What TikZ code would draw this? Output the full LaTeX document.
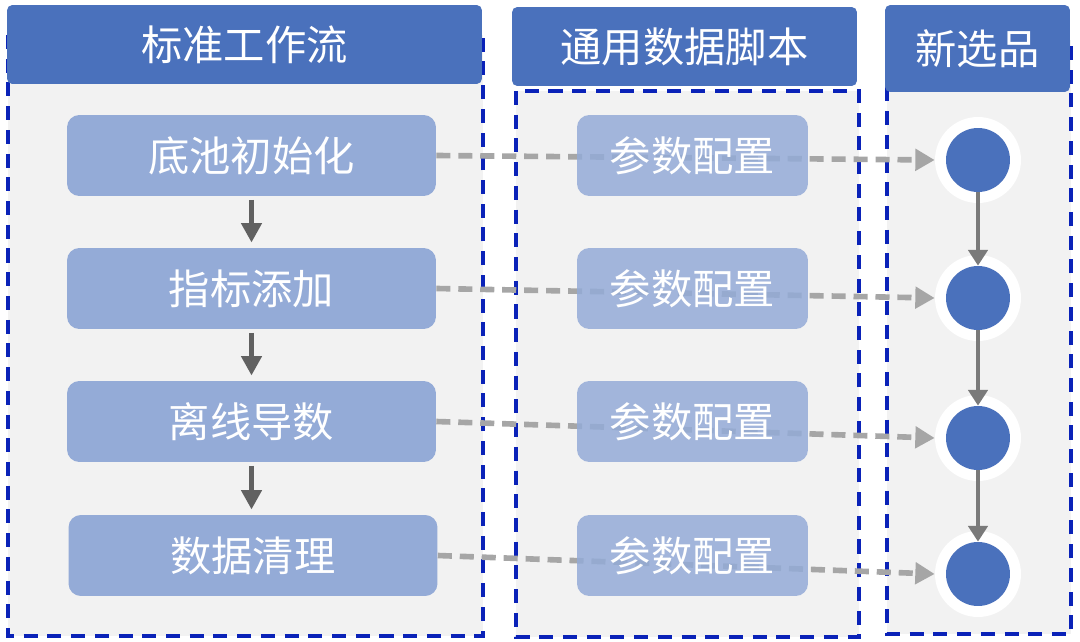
\documentclass[tikz,border=0pt]{standalone}
\usepackage{fontspec}
\setmainfont{Noto Sans CJK SC}
\usetikzlibrary{arrows.meta}
\definecolor{hdr}{HTML}{4A71BC}
\definecolor{boxc}{HTML}{94ABD7}
\definecolor{bodyc}{HTML}{F2F2F2}
\definecolor{borderc}{HTML}{0A22B8}
\definecolor{dashc}{HTML}{A6A6A6}
\definecolor{darkarr}{HTML}{616161}
\definecolor{circarr}{HTML}{7A7A7A}
\begin{document}
\begin{tikzpicture}[x=0.02cm,y=-0.02cm,
  panelbody/.style={fill=bodyc},
  panelborder/.style={draw=borderc, line width=2.2pt, dash pattern=on 8pt off 5.5pt},
  hdrbox/.style={fill=hdr, rounded corners=3pt, text=white, inner sep=0pt,
    font=\fontsize{23.5pt}{27pt}\selectfont},
  stepbox/.style={fill=boxc, rounded corners=7pt, text=white, inner sep=0pt,
    minimum height=1.62cm, font=\fontsize{23.5pt}{27pt}\selectfont},
  parbox/.style={stepbox, fill opacity=0.85, text opacity=1, minimum width=4.62cm},
  halo/.style={circle, fill=white, minimum size=1.72cm, inner sep=0pt},
  dot/.style={circle, fill=hdr, minimum size=1.28cm, inner sep=0pt},
  flowarr/.style={draw=darkarr, line width=2.3pt, -{Triangle[length=11pt,width=11.5pt]}, shorten <=2pt, shorten >=3pt},
  circarrow/.style={draw=circarr, line width=2.2pt, -{Triangle[length=9pt,width=11pt]}},
  cfgarr/.style={draw=dashc, line width=3.2pt, dash pattern=on 8pt off 4.5pt, -{Triangle[length=11pt,width=12pt]}}
]
\useasboundingbox (0,0) rectangle (1080,642);
% panel bodies
\fill[panelbody] (8,35) rectangle (483,636);
\fill[panelbody] (516,91) rectangle (859,637);
\fill[panelbody] (887,40) rectangle (1071,634);
\draw[panelborder] (8,35) rectangle (483,636);
\draw[panelborder] (516,91) rectangle (859,637);
\draw[panelborder] (887,40) rectangle (1071,634);
% headers
\node[hdrbox, minimum width=9.5cm, minimum height=1.58cm] (H1) at (244.5,44.5) {标准工作流};
\node[hdrbox, minimum width=6.9cm, minimum height=1.58cm] (H2) at (684.5,46.5) {通用数据脚本};
\node[hdrbox, minimum width=3.7cm, minimum height=1.74cm] (H3) at (977.5,48.5) {新选品};
% left steps
\node[stepbox, minimum width=7.38cm] (L1) at (251.5,155.5) {底池初始化};
\node[stepbox, minimum width=7.38cm] (L2) at (251.5,288.5) {指标添加};
\node[stepbox, minimum width=7.38cm] (L3) at (251.5,421.5) {离线导数};
\node[stepbox, minimum width=7.38cm] (L4) at (253,555.5) {数据清理};
% circles
\node[halo] (C1h) at (978,160) {};
\node[halo] (C2h) at (978,298) {};
\node[halo] (C3h) at (978,438) {};
\node[halo] (C4h) at (978,574) {};
\node[dot] (C1) at (978,160) {};
\node[dot] (C2) at (978,298) {};
\node[dot] (C3) at (978,438) {};
\node[dot] (C4) at (978,574) {};
% dashed config arrows
\draw[cfgarr] (L1.east) -- (C1h.west);
\draw[cfgarr] (L2.east) -- (C2h.west);
\draw[cfgarr] (L3.east) -- (C3h.west);
\draw[cfgarr] (L4.east) -- (C4h.west);
% middle parameter boxes
\node[parbox] (M1) at (692.5,155.5) {参数配置};
\node[parbox] (M2) at (692.5,288.5) {参数配置};
\node[parbox] (M3) at (692.5,421.5) {参数配置};
\node[parbox] (M4) at (692.5,555.5) {参数配置};
% flow arrows
\draw[flowarr] (L1.south) -- (L2.north);
\draw[flowarr] (L2.south) -- (L3.north);
\draw[flowarr] (L3.south) -- (L4.north -| L3.south);
\draw[circarrow] (C1.south) -- (C2.north);
\draw[circarrow] (C2.south) -- (C3.north);
\draw[circarrow] (C3.south) -- (C4.north);
\end{tikzpicture}
\end{document}
